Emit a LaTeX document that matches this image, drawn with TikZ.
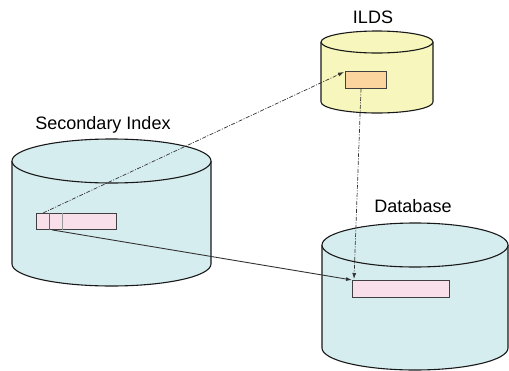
\documentclass[tikz,border=0pt]{standalone}
\usepackage{fontspec}
\setmainfont{Liberation Sans}
\usetikzlibrary{arrows.meta,calc}
\definecolor{cylblue}{HTML}{D6EDEF}
\definecolor{cylyel}{HTML}{F7F6BC}
\definecolor{boxpink}{HTML}{F9DFE9}
\definecolor{boxorange}{HTML}{FBD49E}
\definecolor{linegray}{HTML}{333333}
\newcommand\mycyl[6]{%
  \fill[#6] (#1-#4,#2) -- (#1-#4,#3) arc[start angle=180,end angle=0,x radius=#4,y radius=#5] -- (#1+#4,#2) -- cycle;
  \draw[cylline] (#1-#4,#2) -- (#1-#4,#3) arc[start angle=180,end angle=0,x radius=#4,y radius=#5] -- (#1+#4,#2);
  \filldraw[cylline,fill=#6] (#1,#2) ellipse[x radius=#4,y radius=#5];
}
\begin{document}
\begin{tikzpicture}[x=1pt,y=-1pt,
  cylline/.style={draw=black!90,line width=1.1pt},
  recbox/.style={draw=black!75,line width=0.9pt,inner sep=0pt,anchor=north west},
  lbl/.style={font=\fontsize{18}{20}\selectfont,inner sep=0pt},
  dashconn/.style={draw=linegray,line width=0.7pt,dash pattern=on 4pt off 1.5pt on 1pt off 1.5pt,-{Latex[length=6pt,width=4pt]}},
  solidconn/.style={draw=linegray,line width=0.9pt,-{Latex[length=6pt,width=4pt]}}]
\useasboundingbox (0,0) rectangle (509,370);
% cylinders
\mycyl{111.5}{161}{264}{99.5}{22}{cylblue}
\mycyl{377}{42}{102}{56}{11}{cylyel}
\mycyl{415}{245}{348}{93}{22}{cylblue}
% labels
\node[lbl] (lsec) at (103,125) {Secondary Index};
\node[lbl] (lilds) at (373,17) {ILDS};
\node[lbl] (ldb) at (413,206) {Database};
% boxes
\node[recbox,fill=boxpink,minimum width=80pt,minimum height=16pt] (sib) at (36,213) {};
\draw[black!60,line width=0.9pt] ($(sib.north west)+(13,0)$) -- ($(sib.south west)+(13,0)$);
\draw[black!40,line width=0.9pt] ($(sib.north west)+(26,0)$) -- ($(sib.south west)+(26,0)$);
\node[recbox,fill=boxorange,minimum width=41pt,minimum height=17pt] (ob) at (345,71) {};
\node[recbox,fill=boxpink,minimum width=97pt,minimum height=17pt] (dbb) at (352,280) {};
% connectors
\coordinate (s1) at ($(sib.north west)+(7,0)$);
\coordinate (s2) at ($(sib.south west)+(16,0)$);
\coordinate (o1) at ($(ob.south west)+(16,0)$);
\coordinate (d1) at ($(dbb.north west)+(2,-1)$);
\draw[dashconn] (s1) -- ($(ob.north west)+(-1,1)$);
\draw[solidconn] (s2) -- (dbb.north west);
\draw[dashconn] (o1) -- (d1);
\end{tikzpicture}
\end{document}
